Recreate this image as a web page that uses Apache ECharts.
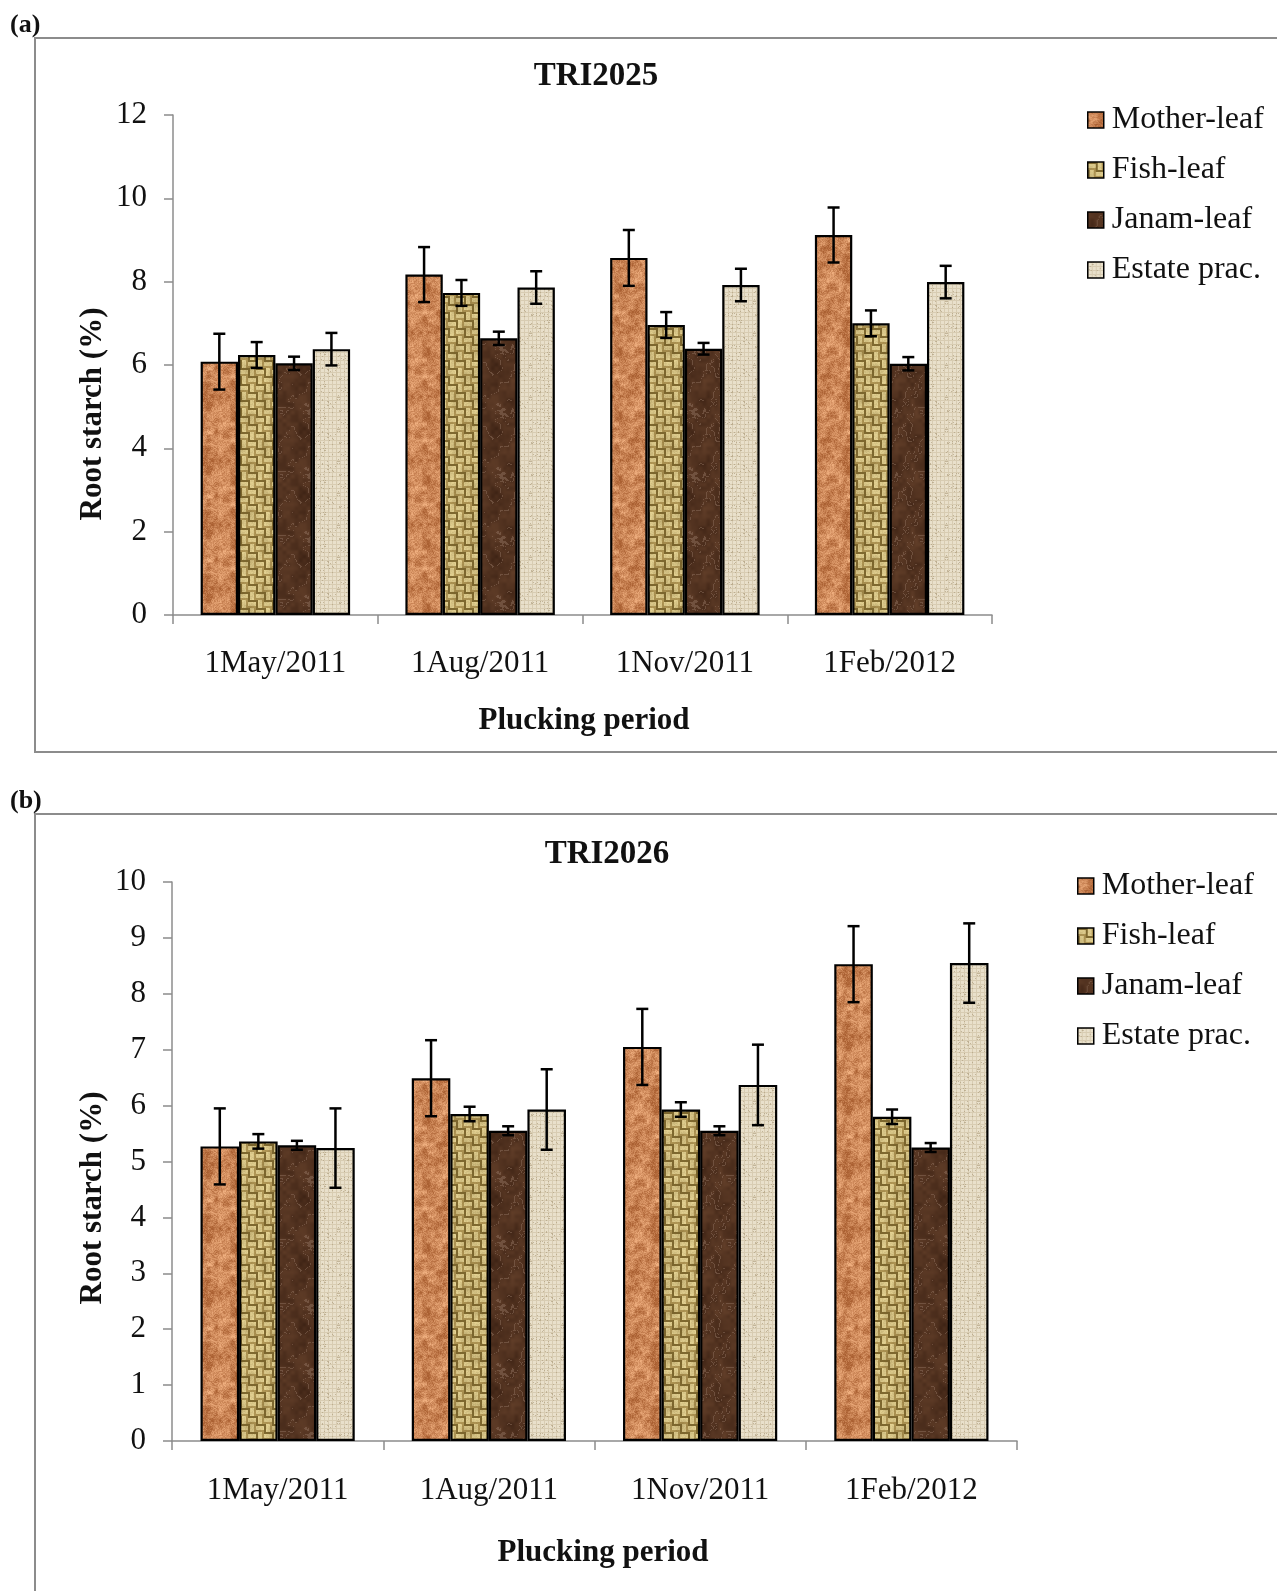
<!DOCTYPE html>
<html>
<head>
<meta charset="utf-8">
<script src="https://cdn.jsdelivr.net/npm/echarts@6/dist/echarts.min.js"></script>
<style>
html,body{margin:0;padding:0;background:#fff;}
#chart{width:1277px;height:1591px;}
</style>
</head>
<body>
<div id="chart"></div>
<script>
// ---------------- DATA ----------------
const categories = ['1May/2011', '1Aug/2011', '1Nov/2011', '1Feb/2012'];
const seriesNames = ['Mother-leaf', 'Fish-leaf', 'Janam-leaf', 'Estate prac.'];

// (a) TRI2025
const a_mother = [6.08, 8.17, 8.57, 9.12];
const a_fish = [6.24, 7.73, 6.96, 7.00];
const a_janam = [6.04, 6.64, 6.39, 6.03];
const a_estate = [6.38, 7.86, 7.92, 7.99];
const a_motherErr = [0.67, 0.66, 0.67, 0.66];
const a_fishErr = [0.31, 0.31, 0.31, 0.31];
const a_janamErr = [0.16, 0.16, 0.14, 0.16];
const a_estateErr = [0.39, 0.39, 0.39, 0.39];

// (b) TRI2026
const b_mother = [5.27, 6.49, 7.05, 8.53];
const b_fish = [5.36, 5.85, 5.93, 5.80];
const b_janam = [5.29, 5.55, 5.55, 5.25];
const b_estate = [5.24, 5.93, 6.37, 8.55];
const b_motherErr = [0.68, 0.68, 0.68, 0.68];
const b_fishErr = [0.13, 0.13, 0.13, 0.13];
const b_janamErr = [0.08, 0.08, 0.08, 0.08];
const b_estateErr = [0.71, 0.72, 0.72, 0.71];

// ---------------- TEXTURES (styling only) ----------------
function hash(x, y, s) { const h = Math.sin(x * 127.1 + y * 311.7 + s * 74.7) * 43758.5453; return h - Math.floor(h); }
function vnoise(x, y, cell, size, s) {
  const n = size / cell;
  const gx = x / cell, gy = y / cell;
  const x0 = Math.floor(gx), y0 = Math.floor(gy);
  const fx = gx - x0, fy = gy - y0;
  const sx = fx * fx * (3 - 2 * fx), sy = fy * fy * (3 - 2 * fy);
  const g = (i, j) => hash(((i % n) + n) % n, ((j % n) + n) % n, s);
  const a = g(x0, y0), b = g(x0 + 1, y0), c = g(x0, y0 + 1), d = g(x0 + 1, y0 + 1);
  return (a * (1 - sx) + b * sx) * (1 - sy) + (c * (1 - sx) + d * sx) * sy;
}
function mix(c1, c2, t) { t = Math.max(0, Math.min(1, t)); return [c1[0] + (c2[0] - c1[0]) * t, c1[1] + (c2[1] - c1[1]) * t, c1[2] + (c2[2] - c1[2]) * t]; }
function makeTex(size, fn) {
  const cv = document.createElement('canvas');
  cv.width = size; cv.height = size;
  const ctx = cv.getContext('2d');
  const img = ctx.createImageData(size, size);
  for (let y = 0; y < size; y++) for (let x = 0; x < size; x++) {
    const c = fn(x, y, size);
    const i = (y * size + x) * 4;
    img.data[i] = c[0]; img.data[i + 1] = c[1]; img.data[i + 2] = c[2]; img.data[i + 3] = 255;
  }
  ctx.putImageData(img, 0, 0);
  return cv;
}
const texMother = makeTex(64, (x, y, S) => {
  const n = 0.35 * vnoise(x, y, 8, S, 1) + 0.35 * vnoise(x, y, 4, S, 2) + 0.3 * hash(x, y, 3);
  return mix([170, 96, 50], [240, 176, 128], (n - 0.2) * 1.6);
});
const texFish = makeTex(48, (x, y, S) => {
  const bx = Math.floor(x / 8), by = Math.floor(y / 8);
  const horiz = (bx + by) % 2 === 0;
  const pos = horiz ? y % 8 : x % 8;
  let c;
  if (pos <= 1) c = [128, 106, 48];
  else if (pos <= 5) c = [232, 214, 150];
  else c = [180, 154, 88];
  const n = vnoise(x, y, 8, S, 5) * 0.35 + hash(x, y, 6) * 0.2;
  return mix(c, [110, 88, 38], n * 0.7);
});
const texJanam = makeTex(64, (x, y, S) => {
  const n = 0.6 * vnoise(x, y, 16, S, 7) + 0.4 * vnoise(x, y, 4, S, 8);
  const vein = Math.abs(Math.sin((x + y) * 0.098 + n * 7));
  let c = mix([58, 32, 18], [100, 64, 42], n);
  if (vein < 0.12) c = mix(c, [140, 110, 92], 0.5);
  return c;
});
const texEstate = makeTex(32, (x, y, S) => {
  let c = [233, 224, 203];
  if (x % 4 === 0 || y % 4 === 0) c = [216, 204, 178];
  const n = hash(x, y, 9);
  if (n > 0.93) c = mix(c, [170, 152, 120], 0.6);
  return c;
});
const textures = [texMother, texFish, texJanam, texEstate];

// ---------------- CHART ----------------
const chart = echarts.init(document.getElementById('chart'), null, { renderer: 'canvas' });
const FONT = '"Liberation Serif", "Times New Roman", serif';
const GAP = 0.27;

const panels = [
  { vals: [a_mother, a_fish, a_janam, a_estate], errs: [a_motherErr, a_fishErr, a_janamErr, a_estateErr] },
  { vals: [b_mother, b_fish, b_janam, b_estate], errs: [b_motherErr, b_fishErr, b_janamErr, b_estateErr] }
];

const series = [];
panels.forEach((p, pi) => {
  seriesNames.forEach((name, si) => {
    series.push({
      name: name, type: 'bar', xAxisIndex: pi, yAxisIndex: pi,
      data: p.vals[si], barGap: '0%', barCategoryGap: (GAP * 100) + '%',
      itemStyle: { color: { image: textures[si], repeat: 'repeat' }, borderColor: '#000', borderWidth: 2.2 },
      emphasis: { disabled: true }, z: 2
    });
  });
  const errData = [];
  seriesNames.forEach((name, si) => {
    p.vals[si].forEach((v, ci) => errData.push([ci, si, v, p.errs[si][ci]]));
  });
  series.push({
    type: 'custom', xAxisIndex: pi, yAxisIndex: pi, z: 5,
    encode: { x: 0, y: 2 },
    data: errData,
    renderItem: function (params, api) {
      const ci = api.value(0), si = api.value(1), v = api.value(2), e = api.value(3);
      const catW = api.size([1, 0])[0];
      const bw = catW * (1 - GAP) / 4;
      const cx = api.coord([ci, v])[0] + (si - 1.5) * bw;
      const yt = api.coord([ci, v + e])[1];
      const yb = api.coord([ci, v - e])[1];
      const hw = 6;
      const st = { stroke: '#000', lineWidth: 2.5 };
      return {
        type: 'group', children: [
          { type: 'line', shape: { x1: cx, y1: yt, x2: cx, y2: yb }, style: st },
          { type: 'line', shape: { x1: cx - hw, y1: yt, x2: cx + hw, y2: yt }, style: st },
          { type: 'line', shape: { x1: cx - hw, y1: yb, x2: cx + hw, y2: yb }, style: st }
        ]
      };
    }
  });
});

const axisLine = { show: true, lineStyle: { color: '#8c8c8c', width: 1.5 } };
const axisTick = { show: true, length: 9, lineStyle: { color: '#8c8c8c', width: 1.5 } };
const labelStyle = { fontFamily: FONT, fontSize: 31, color: '#111' };

const legendCommon = {
  data: seriesNames, orient: 'vertical', itemWidth: 16, itemHeight: 16, itemGap: 18,
  icon: 'rect', selectedMode: false,
  itemStyle: { borderColor: '#000', borderWidth: 1.5 },
  textStyle: { fontFamily: FONT, fontSize: 32, color: '#111', lineHeight: 32, padding: [0, 0, 0, 3] }
};

const option = {
  backgroundColor: '#fff',
  animation: false,
  title: [
    { text: 'TRI2025', left: 591, top: 55, textAlign: 'center', textStyle: { fontFamily: FONT, fontWeight: 'bold', fontSize: 33, color: '#111' } },
    { text: 'TRI2026', left: 602, top: 833, textAlign: 'center', textStyle: { fontFamily: FONT, fontWeight: 'bold', fontSize: 33, color: '#111' } }
  ],
  legend: [
    Object.assign({ left: 1082, top: 99 }, legendCommon),
    Object.assign({ left: 1072, top: 865 }, legendCommon)
  ],
  grid: [
    { left: 173, top: 115, width: 819, height: 500 },
    { left: 172, top: 882, width: 845, height: 559 }
  ],
  xAxis: [
    { type: 'category', gridIndex: 0, data: categories, axisLine: axisLine, axisTick: axisTick,
      axisLabel: Object.assign({ margin: 33 }, labelStyle) },
    { type: 'category', gridIndex: 1, data: categories, axisLine: axisLine, axisTick: axisTick,
      axisLabel: Object.assign({ margin: 34 }, labelStyle) }
  ],
  yAxis: [
    { type: 'value', gridIndex: 0, min: 0, max: 12, interval: 2, axisLine: axisLine, axisTick: axisTick,
      splitLine: { show: false }, axisLabel: Object.assign({ margin: 26 }, labelStyle) },
    { type: 'value', gridIndex: 1, min: 0, max: 10, interval: 1, axisLine: axisLine, axisTick: axisTick,
      splitLine: { show: false }, axisLabel: Object.assign({ margin: 26 }, labelStyle) }
  ],
  graphic: [
    { type: 'rect', shape: { x: 35, y: 38, width: 1400, height: 714 }, style: { fill: 'none', stroke: '#8c8c8c', lineWidth: 2 }, z: -1 },
    { type: 'rect', shape: { x: 35, y: 814, width: 1400, height: 1000 }, style: { fill: 'none', stroke: '#8c8c8c', lineWidth: 2 }, z: -1 },
    { type: 'text', x: 10, y: 25, style: { text: '(a)', font: 'bold 26px ' + FONT, fill: '#111', textVerticalAlign: 'middle' } },
    { type: 'text', x: 10, y: 801, style: { text: '(b)', font: 'bold 26px ' + FONT, fill: '#111', textVerticalAlign: 'middle' } },
    { type: 'text', x: 584, y: 721, style: { text: 'Plucking period', font: 'bold 31px ' + FONT, fill: '#111', textAlign: 'center', textVerticalAlign: 'middle' } },
    { type: 'text', x: 603, y: 1553, style: { text: 'Plucking period', font: 'bold 31px ' + FONT, fill: '#111', textAlign: 'center', textVerticalAlign: 'middle' } },
    { type: 'text', x: 93, y: 414, rotation: Math.PI / 2, style: { text: 'Root starch (%)', font: 'bold 31px ' + FONT, fill: '#111', textAlign: 'center', textVerticalAlign: 'middle' } },
    { type: 'text', x: 93, y: 1198, rotation: Math.PI / 2, style: { text: 'Root starch (%)', font: 'bold 31px ' + FONT, fill: '#111', textAlign: 'center', textVerticalAlign: 'middle' } }
  ],
  series: series
};
chart.setOption(option);
</script>
</body>
</html>
